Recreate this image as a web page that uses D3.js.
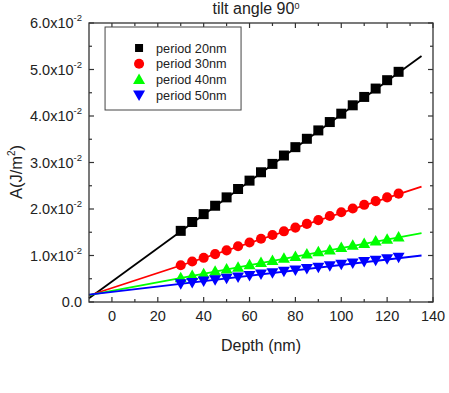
<!DOCTYPE html>
<html lang="en">
<head>
<meta charset="utf-8">
<title>tilt angle 90</title>
<script src="https://d3js.org/d3.v7.min.js"></script>
<style>
  body { margin: 0; background: #fff; }
  text { font-family: "Liberation Sans", Arial, sans-serif; fill: #222; }
</style>
</head>
<body>
<div id="chart"></div>
<script>
// depth values (nm)
const depth = [30, 35, 40, 45, 50, 55, 60, 65, 70, 75, 80, 85, 90, 95, 100, 105, 110, 115, 120, 125];
// A values in units of 1e-2 J/m^2
const p20 = [1.53, 1.72, 1.89, 2.07, 2.25, 2.43, 2.61, 2.79, 2.97, 3.15, 3.33, 3.51, 3.69, 3.87, 4.05, 4.23, 4.41, 4.59, 4.77, 4.95];
const p30 = [0.79, 0.87, 0.95, 1.03, 1.11, 1.20, 1.28, 1.36, 1.44, 1.52, 1.60, 1.68, 1.76, 1.85, 1.93, 2.01, 2.09, 2.17, 2.25, 2.33];
const p40 = [0.52, 0.57, 0.61, 0.66, 0.71, 0.75, 0.80, 0.85, 0.89, 0.94, 0.98, 1.03, 1.08, 1.12, 1.17, 1.22, 1.26, 1.31, 1.35, 1.40];
const p50 = [0.39, 0.42, 0.45, 0.48, 0.51, 0.54, 0.57, 0.60, 0.63, 0.66, 0.69, 0.72, 0.75, 0.78, 0.81, 0.84, 0.87, 0.90, 0.93, 0.96];
// linear fit lines, endpoints at depth -10 and 135
const fitX = [-10, 135];
const fit20 = [0.08, 5.29];
const fit30 = [0.14, 2.48];
const fit40 = [0.15, 1.48];
const fit50 = [0.16, 1.00];
const xTicks = [0, 20, 40, 60, 80, 100, 120, 140];
const yTicks = [0, 1, 2, 3, 4, 5, 6];

const series = [
  { name: "period 20nm", vals: p20, fit: fit20, color: "#000000", shape: "square" },
  { name: "period 30nm", vals: p30, fit: fit30, color: "#ff0000", shape: "circle" },
  { name: "period 40nm", vals: p40, fit: fit40, color: "#00ff00", shape: "up" },
  { name: "period 50nm", vals: p50, fit: fit50, color: "#0000ff", shape: "down" }
];

const W = 449, H = 393;
const margin = { top: 23, right: 16, bottom: 91, left: 89 };
const width = W - margin.left - margin.right,
      height = H - margin.top - margin.bottom;

const svg = d3.select("#chart").append("svg")
  .attr("width", W).attr("height", H)
  .append("g")
  .attr("transform", `translate(${margin.left},${margin.top})`);

const x = d3.scaleLinear().domain([-10, 140]).range([0, width]);
const y = d3.scaleLinear().domain([0, 6]).range([height, 0]);

function markerPath(shape, k) {
  k = k || 1;
  if (shape === "square") return `M${-5*k},${-5*k}H${5*k}V${5*k}H${-5*k}Z`;
  if (shape === "circle") return d3.symbol(d3.symbolCircle, 80 * k * k)();
  if (shape === "up") return `M0,${-6*k}L${6*k},${4.5*k}H${-6*k}Z`;
  return `M0,${6*k}L${6*k},${-4.5*k}H${-6*k}Z`;
}

// fit lines
series.forEach(s => {
  svg.append("path")
    .datum(fitX.map((d, i) => [d, s.fit[i]]))
    .attr("d", d3.line().x(d => x(d[0])).y(d => y(d[1])))
    .attr("stroke", s.color)
    .attr("stroke-width", 1.8)
    .attr("fill", "none");
});

// markers
series.forEach(s => {
  svg.append("g").selectAll("path")
    .data(depth.map((d, i) => [d, s.vals[i]]))
    .join("path")
    .attr("d", markerPath(s.shape))
    .attr("transform", d => `translate(${x(d[0])},${y(d[1])})`)
    .attr("fill", s.color);
});

// axes frame
svg.append("rect")
  .attr("width", width).attr("height", height)
  .attr("fill", "none").attr("stroke", "#333").attr("stroke-width", 1.3);

const xMinor = d3.range(-10, 141, 10).filter(d => d % 20 !== 0 && d > -10);
const yMinor = [0.5, 1.5, 2.5, 3.5, 4.5, 5.5];

const tickG = svg.append("g").attr("stroke", "#333").attr("stroke-width", 1.2);
xTicks.forEach(t => {
  tickG.append("line").attr("x1", x(t)).attr("x2", x(t)).attr("y1", height).attr("y2", height - 5);
  tickG.append("line").attr("x1", x(t)).attr("x2", x(t)).attr("y1", 0).attr("y2", 5);
});
xMinor.forEach(t => {
  tickG.append("line").attr("x1", x(t)).attr("x2", x(t)).attr("y1", height).attr("y2", height - 3);
  tickG.append("line").attr("x1", x(t)).attr("x2", x(t)).attr("y1", 0).attr("y2", 3);
});
yTicks.forEach(t => {
  tickG.append("line").attr("x1", 0).attr("x2", 5).attr("y1", y(t)).attr("y2", y(t));
  tickG.append("line").attr("x1", width).attr("x2", width - 5).attr("y1", y(t)).attr("y2", y(t));
});
yMinor.forEach(t => {
  tickG.append("line").attr("x1", 0).attr("x2", 3).attr("y1", y(t)).attr("y2", y(t));
  tickG.append("line").attr("x1", width).attr("x2", width - 3).attr("y1", y(t)).attr("y2", y(t));
});

// tick labels
svg.append("g").selectAll("text")
  .data(xTicks).join("text")
  .attr("x", d => x(d)).attr("y", height + 19)
  .attr("text-anchor", "middle")
  .attr("font-size", 14.5)
  .text(d => d);

const yl = svg.append("g").selectAll("text")
  .data(yTicks).join("text")
  .attr("x", -7).attr("y", d => y(d) + 5)
  .attr("text-anchor", "end")
  .attr("font-size", 14.5);
yl.each(function(d) {
  const t = d3.select(this);
  if (d === 0) { t.text("0.0"); return; }
  t.append("tspan").text(d.toFixed(1) + "x10");
  t.append("tspan").attr("dy", -7).attr("font-size", 9.5).text("-2");
});

// axis titles
svg.append("text")
  .attr("x", width / 2).attr("y", height + 49)
  .attr("text-anchor", "middle").attr("font-size", 16)
  .text("Depth (nm)");

const ylab = svg.append("text")
  .attr("transform", `translate(${-67.5},${149}) rotate(-90)`)
  .attr("text-anchor", "middle").attr("font-size", 16.5);
ylab.append("tspan").text("A(J/m");
ylab.append("tspan").attr("dy", -7).attr("font-size", 10).text("2");
ylab.append("tspan").attr("dy", 7).text(")");

const title = svg.append("text")
  .attr("x", width / 2 - 5).attr("y", -9)
  .attr("text-anchor", "middle").attr("font-size", 16);
title.append("tspan").text("tilt angle 90");
title.append("tspan").attr("dy", -5).attr("font-size", 9).text("0");

// legend
const leg = svg.append("g").attr("transform", `translate(${x(-3)},${4})`);
leg.append("rect")
  .attr("width", 136).attr("height", 83)
  .attr("fill", "#fff").attr("stroke", "#444").attr("stroke-width", 1);
series.forEach((s, i) => {
  const ly = 21 + i * 15.7;
  leg.append("path")
    .attr("d", markerPath(s.shape, s.shape === "square" ? 0.8 : 1))
    .attr("transform", `translate(34,${ly})`)
    .attr("fill", s.color);
  leg.append("text")
    .attr("x", 51).attr("y", ly + 4.5)
    .attr("font-size", 12.7)
    .text(s.name);
});
</script>
</body>
</html>
